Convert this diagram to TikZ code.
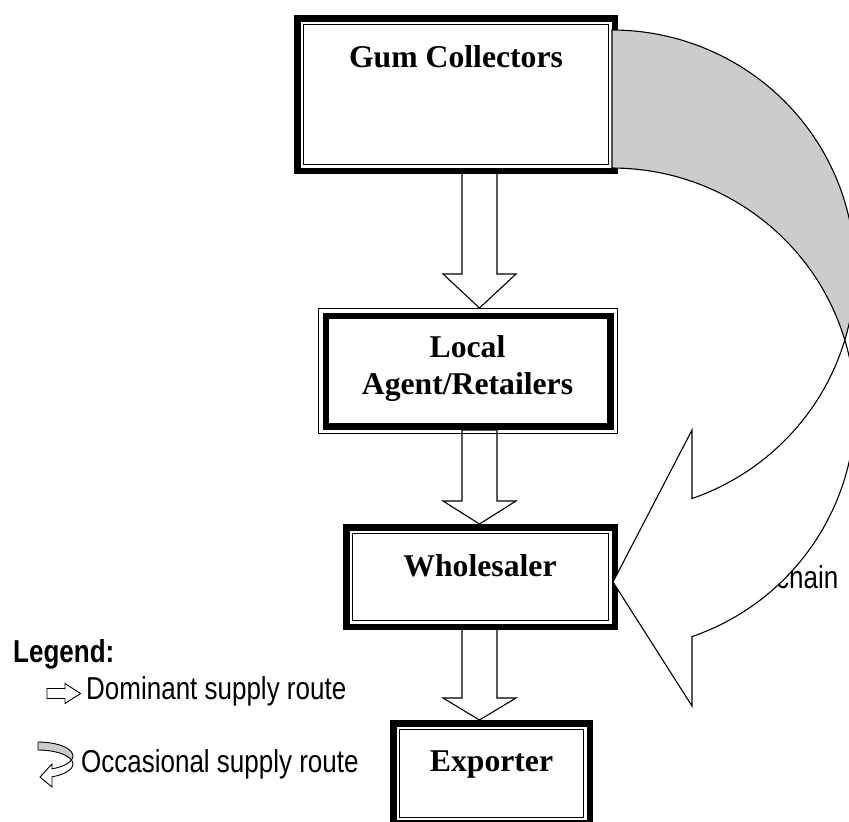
\documentclass[tikz,border=0pt]{standalone}
\usepackage{fontspec}
\setmainfont{Liberation Serif}
\newfontfamily\narrowsans[FakeStretch=0.82]{Liberation Sans}
\usetikzlibrary{calc}
\tikzset{
  boxnode/.style={rectangle, inner sep=0pt, outer sep=0pt},
  boxtext/.style={font=\bfseries\fontsize{31.7}{37}\selectfont, inner sep=0pt, anchor=base},
  legtext/.style={font=\narrowsans\fontsize{31.7}{37}\selectfont, inner sep=0pt, anchor=base west},
  thickline/.style={line width=6.5pt},
  thinline/.style={line width=1pt},
  blockarr/.style={draw=black, fill=white, line width=1.1pt, line join=miter},
  backband/.style={draw=black, fill=black!20, line width=1.1pt},
  frontband/.style={draw=black, fill=white, line width=1.1pt, line join=miter},
  iconline/.style={draw=black, line width=0.9pt, line join=miter},
}
\newcommand\thickthinframe[1]{%
  \draw[thickline] ([shift={(3.25,3.25)}]#1.north west) rectangle ([shift={(-3.25,-3.25)}]#1.south east);
  \draw[thinline] ([shift={(9.5,9.5)}]#1.north west) rectangle ([shift={(-9.5,-9.5)}]#1.south east);}
\newcommand\thinthickframe[1]{%
  \draw[thinline] ([shift={(0.5,0.5)}]#1.north west) rectangle ([shift={(-0.5,-0.5)}]#1.south east);
  \draw[thickline] ([shift={(7.75,7.75)}]#1.north west) rectangle ([shift={(-7.75,-7.75)}]#1.south east);}
\newcommand\blockdown[4]{%
  \draw[blockarr] ($(#2.south -| #1)+(-17.5,-4)$) -- ($(#3.north -| #1)+(-17.5,-#4)$)
    -- ($(#3.north -| #1)+(-36.5,-#4)$) -- (#3.north -| #1) -- ($(#3.north -| #1)+(36.5,-#4)$)
    -- ($(#3.north -| #1)+(17.5,-#4)$) -- ($(#2.south -| #1)+(17.5,-4)$) -- cycle;}
\begin{document}
\begin{tikzpicture}[x=1pt, y=-1pt]
\useasboundingbox (0,0) rectangle (849,822);
\fill[white] (0,0) rectangle (849,822);
\clip (0,0) rectangle (849,822);

% boxes (shapes only, frames drawn below)
\node[boxnode, minimum width=324pt, minimum height=159pt] (gum) at (456,94.5) {};
\node[boxnode, minimum width=300pt, minimum height=126pt] (local) at (468,371) {};
\node[boxnode, minimum width=275pt, minimum height=106pt] (whole) at (480.5,577) {};
\node[boxnode, minimum width=203pt, minimum height=106.5pt] (exp) at (491.5,773.25) {};

% box texts
\node[boxtext] (gumtxt) at (456,67) {Gum Collectors};
\node[boxtext] (localtxt1) at (467.5,357) {Local};
\node[boxtext] (localtxt2) at (467.5,394) {Agent/Retailers};
\node[boxtext] (wholetxt) at (480,576) {Wholesaler};
\node[boxtext] (exptxt) at (491.5,771) {Exporter};

% dominant supply route arrows
\coordinate (ax) at (479.5,0);
\blockdown{ax}{gum}{local}{34}
\blockdown{ax}{local}{whole}{23}
\blockdown{ax}{whole}{exp}{22}

% frames
\thickthinframe{gum}
\thinthickframe{local}
\thickthinframe{whole}
\thickthinframe{exp}

% partly hidden label
\node[legtext] (chaintxt) at (776,588) {chain};

% occasional supply route (curved arrow)
\filldraw[backband] ($(gum.north east)+(-6,15)$) arc[start angle=-90, end angle=16.64, x radius=243, y radius=241]
  arc[start angle=-16.64, end angle=-90, x radius=243, y radius=241] -- cycle;
\filldraw[frontband] (844.8,340) arc[start angle=16.64, end angle=70.78, x radius=243, y radius=241]
  -- (692,430) -- ($(whole.east)+(-5,5)$) -- (692,706) -- (692,636.6)
  arc[start angle=70.78, end angle=-16.64, x radius=243, y radius=241] -- cycle;

% legend
\node[legtext, font=\narrowsans\bfseries\fontsize{31.7}{37}\selectfont] (legtitle) at (13,662) {Legend:};
\node[legtext] (domtxt) at (86,699) {Dominant supply route};
\node[legtext] (occtxt) at (81,772) {Occasional supply route};
\draw[iconline, fill=white] (47,688.5) -- (65,688.5) -- (65,683.5) -- (80.5,693.5) -- (65,703.5) -- (65,698.5) -- (47,698.5) -- cycle;
\filldraw[iconline, fill=black!20] (38,742) arc[start angle=-90, end angle=16.6, x radius=35, y radius=14]
  arc[start angle=-16.6, end angle=-90, x radius=35, y radius=14] -- cycle;
\filldraw[iconline, fill=white] (71.5,760) arc[start angle=16.6, end angle=66.42, x radius=35, y radius=14]
  -- (52,764) -- (40,777) -- (52,787) -- (52,776.8)
  arc[start angle=66.42, end angle=-16.6, x radius=35, y radius=14] -- cycle;
\end{tikzpicture}
\end{document}
